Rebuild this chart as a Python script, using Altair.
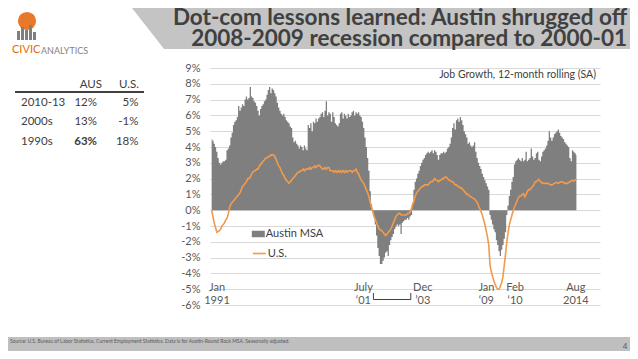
import altair as alt
import pandas as pd

FONT = "Lato"
GRAY = "#7f7f7f"
ORANGE = "#f39a4b"
DARK = "#404040"
MID = "#595959"

# ---------------- data ----------------
austin = [
    4.5, 4.4, 4.2, 4.0, 3.7, 3.3, 3.0, 2.9, 3.0, 3.1, 3.1, 3.2,        # 1991
    3.8, 3.9, 4.1, 4.6, 4.9, 5.4, 5.6, 5.7, 5.9, 6.6, 6.3, 6.5,        # 1992
    6.7, 6.6, 7.0, 7.2, 7.0, 7.1, 7.8, 7.2, 7.1, 6.9, 6.8, 6.6,        # 1993
    6.3, 6.0, 6.4, 6.6, 6.7, 6.9, 7.0, 7.3, 7.6, 7.8, 7.4, 7.7,        # 1994
    7.6, 7.4, 7.2, 6.8, 6.5, 6.3, 6.1, 6.0, 6.1, 5.9, 5.7, 5.6,        # 1995
    5.5, 5.3, 5.2, 4.6, 4.3, 4.4, 4.2, 4.1, 3.9, 4.1, 4.0, 3.8,        # 1996
    4.1, 3.9, 3.8, 5.4, 5.2, 5.5, 5.0, 5.6, 5.5, 5.8, 5.6, 5.8,        # 1997
    5.9, 6.1, 6.2, 5.9, 6.3, 6.9, 6.0, 6.2, 6.1, 5.6, 6.2, 5.9,        # 1998
    5.5, 5.4, 5.3, 5.5, 6.1, 6.2, 5.8, 6.1, 6.0, 5.8, 6.1, 5.9,        # 1999
    6.0, 6.2, 6.3, 6.0, 6.2, 6.1, 6.2, 6.0, 5.9, 5.6, 5.2, 4.6,        # 2000
    4.0, 3.3, 2.5, 1.2, 0.4, -0.1, -0.4, -0.9, -1.6, -2.4, -2.9, -3.4, # 2001
    -3.4, -3.2, -3.0, -2.7, -2.6, -2.9, -2.2, -1.9, -1.7, -1.5, -1.2, -1.05,  # 2002
    -0.9, -1.0, -0.9, -1.5, -0.8, -0.7, -0.6, -0.6, -0.5, -0.6, -0.4, -0.3,   # 2003
    0.4, 1.3, 1.8, 2.0, 2.3, 2.5, 2.8, 3.0, 3.2, 3.3, 3.5, 3.6,        # 2004
    3.7, 3.6, 3.7, 3.8, 3.6, 3.8, 3.7, 3.5, 3.2, 3.5, 3.6, 3.6,        # 2005
    3.7, 3.6, 3.7, 3.9, 4.0, 4.2, 4.6, 5.2, 5.5, 5.1, 5.7, 5.8,        # 2006
    5.6, 5.9, 5.7, 5.4, 5.0, 4.8, 4.6, 4.2, 4.3, 4.1, 4.0, 4.1,        # 2007
    4.3, 3.7, 3.3, 3.0, 2.8, 2.6, 2.3, 2.1, 1.9, 1.7, 1.5, 1.3,        # 2008
    -0.3, -0.6, -0.9, -1.2, -1.4, -1.9, -2.2, -2.6, -2.9, -2.5, -2.2, -1.8,   # 2009
    -1.4, -0.3, 0.3, 0.9, 1.3, 1.8, 2.1, 2.9, 3.1, 3.2, 3.3, 3.2,      # 2010
    3.1, 3.3, 3.1, 3.2, 3.7, 3.1, 3.2, 3.3, 3.9, 3.4, 3.2, 3.3,        # 2011
    3.6, 3.7, 3.2, 3.1, 3.4, 3.7, 3.8, 3.9, 4.1, 4.4, 5.0, 4.6,        # 2012
    4.4, 4.6, 4.8, 4.9, 5.0, 5.1, 4.9, 4.7, 4.6, 4.5, 4.3, 4.2,        # 2013
    4.1, 4.0, 3.3, 3.1, 3.8, 3.7, 3.6, 3.5,                            # 2014 (Jan-Aug)
]

us = [
    0.0, -0.4, -0.8, -1.1, -1.4, -1.35, -1.3, -1.2, -1.0, -0.9, -0.8, -0.6,   # 1991
    -0.5, -0.2, 0.2, 0.4, 0.5, 0.6, 0.7, 0.8, 0.9, 1.0, 1.1, 1.3,      # 1992
    1.5, 1.6, 1.7, 1.8, 2.0, 2.0, 2.1, 2.3, 2.4, 2.5, 2.5, 2.6,        # 1993
    2.6, 2.8, 2.9, 3.0, 3.1, 3.2, 3.3, 3.3, 3.4, 3.4, 3.5, 3.5,        # 1994
    3.5, 3.4, 3.2, 3.0, 2.8, 2.7, 2.5, 2.3, 2.2, 2.0, 1.9, 1.8,        # 1995
    1.7, 1.8, 1.9, 2.0, 2.1, 2.2, 2.3, 2.4, 2.4, 2.5, 2.5, 2.6,        # 1996
    2.5, 2.6, 2.6, 2.6, 2.7, 2.6, 2.7, 2.7, 2.8, 2.7, 2.8, 2.85,       # 1997
    2.8, 2.7, 2.6, 2.6, 2.7, 2.6, 2.7, 2.7, 2.5, 2.5, 2.5, 2.4,        # 1998
    2.5, 2.4, 2.5, 2.4, 2.5, 2.4, 2.5, 2.4, 2.5, 2.4, 2.5, 2.5,        # 1999
    2.5, 2.4, 2.5, 2.5, 2.6, 2.4, 2.3, 2.1, 1.9, 1.8, 1.7, 1.5,        # 2000
    1.3, 1.1, 0.85, 0.5, 0.2, -0.1, -0.4, -0.6, -0.8, -1.0, -1.2, -1.25,     # 2001
    -1.3, -1.4, -1.5, -1.6, -1.5, -1.4, -1.3, -1.2, -1.0, -0.8, -0.6, -0.4,  # 2002
    -0.3, -0.2, -0.2, -0.3, -0.3, -0.3, -0.3, -0.3, -0.2, -0.2, -0.1, 0.1,   # 2003
    0.4, 0.6, 0.9, 1.1, 1.2, 1.3, 1.4, 1.5, 1.5, 1.6, 1.6, 1.6,        # 2004
    1.6, 1.7, 1.8, 1.8, 1.9, 2.0, 1.9, 1.9, 1.8, 1.9, 1.9, 2.0,        # 2005
    2.0, 2.1, 2.1, 2.0, 1.9, 1.9, 1.8, 1.8, 1.7, 1.6, 1.6, 1.5,        # 2006
    1.5, 1.4, 1.4, 1.3, 1.2, 1.1, 1.0, 1.0, 0.9, 0.85, 0.8, 0.75,      # 2007
    0.7, 0.6, 0.5, 0.3, 0.1, -0.1, -0.3, -0.6, -0.9, -1.3, -1.7, -2.2, # 2008
    -3.5, -3.9, -4.2, -4.5, -4.7, -4.9, -5.0, -5.0, -4.8, -4.6, -4.2, -3.5,  # 2009
    -2.8, -2.0, -1.4, -0.9, -0.6, -0.3, 0.0, 0.2, 0.4, 0.6, 0.8, 0.9,  # 2010
    0.9, 1.0, 1.05, 0.85, 1.0, 1.2, 1.3, 1.3, 1.4, 1.5, 1.6, 1.8,      # 2011
    1.8, 1.9, 1.95, 1.8, 1.75, 1.7, 1.7, 1.7, 1.7, 1.7, 1.65, 1.6,     # 2012
    1.6, 1.65, 1.7, 1.75, 1.75, 1.7, 1.75, 1.8, 1.8, 1.75, 1.7, 1.7,   # 2013
    1.7, 1.75, 1.8, 1.85, 1.9, 1.85, 1.9, 1.95,                        # 2014 (Jan-Aug)
]

months = list(range(len(austin)))          # 0 = Jan 1991
assert len(austin) == len(us) == 284

series_names = ["Austin MSA", "U.S."]

tick_months = [0, 126, 155, 216, 229, 283]
tick_top = ["Jan", "July", "Dec", "Jan", "Feb", "Aug"]
tick_bottom = ["1991", "\u201801", "\u201903", "\u201809", "\u201810", "2014"]
tick_dx = [6, -10, 12, -3, 9, 0]           # label nudges (style)

bracket_months = [126, 155]

y_ticks = list(range(-6, 10))

table_cols = ["AUS", "U.S."]
table_rows = ["2010-13", "2000s", "1990s"]
table_aus = ["12%", "13%", "63%"]
table_us = ["5%", "-1%", "18%"]

title_lines = ["Dot-com lessons learned: Austin shrugged off",
               "2008-2009 recession compared to 2000-01"]
chart_note = "Job Growth, 12-month rolling (SA)"
source_note = ("Source: U.S. Bureau of Labor Statistics, Current Employment Statistics. "
               "Data is for Austin-Round Rock MSA. Seasonally adjusted.")
page_no = "4"

# ---------------- helpers ----------------
def px(x):  # absolute page x -> plot-relative x
    return x - 210


def py(y):
    return y - 68


XS = alt.Scale(domain=[-0.78, 301.8], nice=False, zero=False)
YS = alt.Scale(domain=[-6, 9], nice=False, zero=False)


def text_layer(text, x, y, size, color, align="left", weight="normal", **kw):
    return alt.Chart(pd.DataFrame({"t": [text]})).mark_text(
        align=align, baseline="middle", font=FONT, fontSize=size, color=color,
        fontWeight=weight, **kw
    ).encode(x=alt.value(px(x)), y=alt.value(py(y)), text="t:N")


def shape_layer(path, x, y, color, size=4):
    return alt.Chart(pd.DataFrame({"k": [0]})).mark_point(
        shape=path, size=size, filled=True, color=color, opacity=1, strokeWidth=0
    ).encode(x=alt.value(px(x)), y=alt.value(py(y)))


df = pd.DataFrame({"m": months, "austin": austin, "us": us})

# ---------------- main plot ----------------
# monthly columns drawn as one stepped area (each month centred on its slot)
bars = alt.Chart(df).transform_calculate(
    mc="datum.m + 0.5", z="0", s="'" + series_names[0] + "'"
).mark_area(interpolate="step", opacity=1).encode(
    x=alt.X("mc:Q", scale=XS, axis=None),
    y=alt.Y("austin:Q", scale=YS, axis=alt.Axis(
        values=y_ticks, labelExpr="datum.value + '%'", labelFont=FONT,
        labelFontSize=11, labelColor=MID, labelPadding=10, ticks=False,
        tickSize=0, domain=False, grid=True, gridColor="#d9d9d9", gridWidth=1,
        title=None)),
    y2="z:Q",
    fill=alt.Fill("s:N", scale=alt.Scale(range=[GRAY]), legend=alt.Legend(
        title=None, orient="none", legendX=41.8, legendY=159.5,
        symbolType="M-1,-0.5H1V0.5H-1Z", symbolSize=169, symbolStrokeWidth=0,
        symbolOpacity=1, labelFont=FONT, labelFontSize=11, labelColor=DARK,
        labelOffset=1)),
)

line = alt.Chart(df).transform_calculate(
    mc="datum.m + 0.5", s2="'" + series_names[1] + "'"
).mark_line(strokeWidth=1.6).encode(
    x=alt.X("mc:Q", scale=XS, axis=None),
    y=alt.Y("us:Q", scale=YS, axis=None),
    stroke=alt.Stroke("s2:N", scale=alt.Scale(range=[ORANGE]), legend=alt.Legend(
        title=None, orient="none", legendX=41.8, legendY=178,
        symbolType="stroke", symbolSize=169, symbolStrokeWidth=1.6,
        labelFont=FONT, labelFontSize=11, labelColor=DARK, labelOffset=1)),
)

tick_layers = []
for i in range(len(tick_months)):
    d = pd.DataFrame({"m": [tick_months[i]], "a": [tick_top[i]], "b": [tick_bottom[i]]})
    for field, yy in (("a", 288), ("b", 301)):
        tick_layers.append(alt.Chart(d).mark_text(
            align="center", baseline="middle", font=FONT, fontSize=11, color=MID,
            dx=tick_dx[i]
        ).encode(x=alt.X("m:Q", scale=XS, axis=None), y=alt.value(py(yy)), text=f"{field}:N"))

bdf = pd.DataFrame({"m": bracket_months})
bracket_v = alt.Chart(bdf).mark_rule(color=DARK, strokeWidth=1).encode(
    x=alt.X("m:Q", scale=XS, axis=None), y=alt.value(py(293)), y2=alt.value(py(299.5)))
bracket_h = alt.Chart(pd.DataFrame({"a": [bracket_months[0]], "b": [bracket_months[1]]})).mark_rule(
    color=DARK, strokeWidth=1).encode(
    x=alt.X("a:Q", scale=XS, axis=None), x2="b:Q", y=alt.value(py(299.5)))

# ---------------- slide decorations ----------------
header = shape_layer("M0,0L520,0L520,41L32,41Z", 132, 8, "#c4c4c4")
footer = alt.Chart(pd.DataFrame({"k": [0]})).mark_rect(color="#bfbfbf").encode(
    x=alt.value(px(8)), x2=alt.value(px(630)), y=alt.value(py(337)), y2=alt.value(py(351)))

logo_ball = alt.Chart(pd.DataFrame({"k": [0]})).mark_point(
    shape="circle", size=330, filled=True, color="#e8782a", opacity=1).encode(
    x=alt.value(px(27)), y=alt.value(py(21)))
logo_bars = shape_layer("M-10,0h3v-9h-3z M-6,0h3v-13h-3z M-2,0h3v-10h-3z M2,0h3v-15h-3z M6,0h3v-8h-3z",
                        27, 40, GRAY)
logo_civic = text_layer("CIVIC", 12, 50, 11, "#e46c0a")
logo_analytics = text_layer("ANALYTICS", 41, 50.5, 9, GRAY)

title1 = text_layer(title_lines[0], 627, 17.5, 22.5, DARK, align="right", weight="bold")
title2 = text_layer(title_lines[1], 627, 38.5, 22.5, DARK, align="right", weight="bold")

note = text_layer(chart_note, 596, 75, 10.5, DARK, align="right")
source = text_layer(source_note, 10, 341, 5, MID)
page = text_layer(page_no, 625, 347, 8, MID, align="center")

# ---------------- table ----------------
tdf = pd.DataFrame({"row": table_rows, "aus": table_aus, "us": table_us})
TY = alt.Y("row:N", sort=None, axis=None,
           scale=alt.Scale(type="point", domain=table_rows, range=[py(103), py(141.5)], padding=0))

def table_col(field, x, align, weight="normal", flt=None):
    c = alt.Chart(tdf)
    if flt is not None:
        c = c.transform_filter(flt)
    return c.mark_text(align=align, baseline="middle", font=FONT, fontSize=11.5,
                       color=DARK, fontWeight=weight).encode(
        x=alt.value(px(x)), y=TY, text=f"{field}:N")

t_rows = table_col("row", 21, "left")
t_aus = table_col("aus", 97, "right", flt=alt.datum.row != table_rows[2])
t_aus_b = table_col("aus", 97, "right", weight="bold", flt=alt.datum.row == table_rows[2])
t_us = table_col("us", 138.5, "right")
t_h1 = text_layer(table_cols[0], 102, 84.5, 11.5, DARK, align="right")
t_h2 = text_layer(table_cols[1], 139, 84.5, 11.5, DARK, align="right")
t_line = alt.Chart(pd.DataFrame({"k": [0]})).mark_rule(color="#000000", strokeWidth=1.3).encode(
    x=alt.value(px(15)), x2=alt.value(px(144)), y=alt.value(py(92)))

chart = alt.layer(
    header, footer, logo_ball, logo_bars, logo_civic, logo_analytics, title1, title2,
    bars, line, *tick_layers, bracket_v, bracket_h, note, source, page,
    t_rows, t_aus, t_aus_b, t_us, t_h1, t_h2, t_line,
).resolve_scale(y="independent").properties(
    width=390, height=237,
    autosize=alt.AutoSizeParams(type="none"),
    padding={"left": 202, "top": 60, "right": 30, "bottom": 46},
    background="white",
).configure_view(stroke=None)

chart.save("out.html", embed_options={"renderer": "svg", "actions": False})
